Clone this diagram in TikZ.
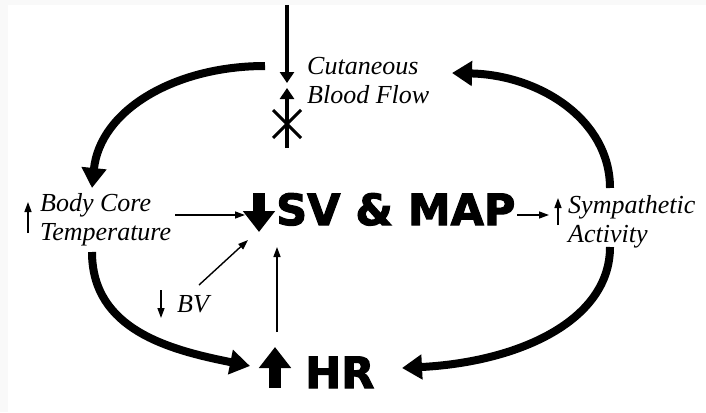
\documentclass[tikz,border=0pt]{standalone}
\usepackage{fontspec}
\usepackage{tikz}
\usetikzlibrary{arrows.meta}
\newfontfamily\heavyfont{DejaVu Sans}[BoldFeatures={FakeBold=2.5}]
\newfontfamily\notefont{Liberation Serif}
\tikzset{every scope/.style={line join=miter}}
\tikzstyle{effect_text} =
  [ anchor=base west
  , align=left
  , inner sep=0pt
  , font=\fontsize{26}{29}\selectfont\notefont\itshape
  ]
\tikzstyle{heavy_text} =
  [ anchor=base west
  , inner sep=0pt
  , font=\fontsize{43}{48}\selectfont\heavyfont\bfseries
  ]
\tikzstyle{fat_arrow}  = [line width=12pt,  -{Triangle[length=21pt,width=31pt]}]
\tikzstyle{loop_arrow} = [line width=8pt,   -{Triangle[length=20pt,width=24pt]}]
\tikzstyle{flow_arrow} = [line width=4.5pt, -{Triangle[length=11pt,width=14pt]}]
\tikzstyle{thin_arrow} = [line width=1.4pt, -{Triangle[length=10pt,width=7pt]}]
\def\CutaneousFlow{Cutaneous\\Blood Flow}
\def\BodyCore{Body Core\\Temperature}
\def\Sympathetic{Sympathetic\\Activity}
\def\BloodVolume{BV}
\def\StrokeMAP{SV \& MAP}
\def\HeartRate{HR}
\begin{document}
\begin{tikzpicture}[x=1pt,y=-1pt]
    \fill[gray!5] (0,0) rectangle (706,5);
    \fill[gray!5] (0,0) rectangle (8,412);
    \useasboundingbox (0,0) rectangle (706,412);

    % multi-line labels sit on the baseline of their last line
    \node[effect_text] (cutaneous)   at (307,103) {\CutaneousFlow};
    \node[effect_text] (bodycore)    at ( 40,240) {\BodyCore};
    \node[effect_text] (sympathetic) at (568,242) {\Sympathetic};
    \node[effect_text] (bv)          at (177,312) {\BloodVolume};
    \node[heavy_text]  (svmap)       at (276,225) {\StrokeMAP};
    \node[heavy_text]  (hr)          at (305,388) {\HeartRate};

    % end points of the arrows
    \coordinate (skin_top)  at (287,  5);
    \coordinate (skin_in)   at (287, 83);
    \coordinate (skin_bot)  at (287,148);
    \coordinate (skin_up)   at (287, 88);
    \coordinate (sv_top)    at (259,193);
    \coordinate (sv_tip)    at (259,232);
    \coordinate (hr_bot)    at (275,388);
    \coordinate (hr_tip)    at (275,347);
    \coordinate (temp_out)  at (175,215);
    \coordinate (sv_left)   at (245,215);
    \coordinate (bv_out)    at (199,285);
    \coordinate (sv_low)    at (248,240);
    \coordinate (hr_out)    at (277,332);
    \coordinate (sv_below)  at (277,247);
    \coordinate (sv_out)    at (517,215);
    \coordinate (symp_in)   at (549,215);
    \coordinate (top_left)  at (265, 66);
    \coordinate (temp_top)  at ( 92,188);
    \coordinate (temp_bot)  at ( 92,252);
    \coordinate (hr_left)   at (250,366);
    \coordinate (symp_top)  at (610,188);
    \coordinate (top_right) at (452, 73);
    \coordinate (symp_bot)  at (610,247);
    \coordinate (hr_right)  at (402,368);

    % marks beside the labels
    \draw[fat_arrow]  (sv_top) -- (sv_tip);
    \draw[fat_arrow]  (hr_bot) -- (hr_tip);
    \draw[thin_arrow] ( 28,233) -- ( 28,202);
    \draw[thin_arrow] (161,290) -- (161,318);
    \draw[thin_arrow] (558,225) -- (558,198);

    % cutaneous blood flow
    \draw[flow_arrow] (skin_top) -- (skin_in);
    \draw[flow_arrow] (skin_bot) -- (skin_up);
    \draw[line width=3pt] (273,110) -- (301,138) (301,110) -- (273,138);

    \draw[thin_arrow] (temp_out) -- (sv_left);
    \draw[thin_arrow] (bv_out)   -- (sv_low);
    \draw[thin_arrow] (hr_out)   -- (sv_below);
    \draw[thin_arrow] (sv_out)   -- (symp_in);

    \draw[loop_arrow] (top_left) .. controls (175, 66) and (100,110) .. (temp_top);
    \draw[loop_arrow] (temp_bot) .. controls ( 92,330) and (170,350) .. (hr_left);
    \draw[loop_arrow] (symp_top) .. controls (610,120) and (540, 75) .. (top_right);
    \draw[loop_arrow] (symp_bot) .. controls (610,320) and (520,362) .. (hr_right);
\end{tikzpicture}
\end{document}
